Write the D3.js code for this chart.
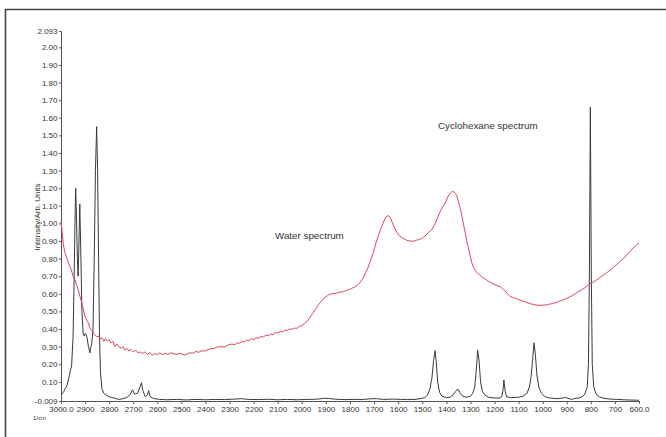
<!DOCTYPE html>
<html>
<head>
<meta charset="utf-8">
<script src="https://cdn.jsdelivr.net/npm/d3@7"></script>
<style>
  body { margin: 0; background: #fff; }
  svg text { font-family: "Liberation Sans", Arial, sans-serif; fill: #333; }
</style>
</head>
<body>
<svg id="chart" width="666" height="437"></svg>
<script>
  // x tick positions (Raman shift) and y tick positions
  var xTicks = [3000, 2900, 2800, 2700, 2600, 2500, 2400, 2300, 2200, 2100, 2000, 1900, 1800,
                1700, 1600, 1500, 1400, 1300, 1200, 1100, 1000, 900, 800, 700, 600];
  var yTicks = [-0.009, 0.10, 0.20, 0.30, 0.40, 0.50, 0.60, 0.70, 0.80, 0.90, 1.00, 1.10, 1.20,
                1.30, 1.40, 1.50, 1.60, 1.70, 1.80, 1.90, 2.00, 2.093];

  // water spectrum (red), [shift, intensity]
  var waterSpectrum = [
    [3000,1.01],[2995,0.95],[2990,0.88],[2985,0.84],[2980,0.82],[2975,0.80],[2970,0.78],[2963,0.755],
    [2956,0.73],[2950,0.70],[2942,0.68],[2935,0.65],[2928,0.62],[2921,0.584],[2914,0.55],[2907,0.508],
    [2900,0.47],[2893,0.45],[2886,0.434],[2878,0.40],[2870,0.39],[2862,0.37],[2852,0.357],[2845,0.36],
    [2838,0.345],[2830,0.35],[2822,0.33],[2815,0.345],[2808,0.33],[2800,0.338],[2792,0.32],[2785,0.33],
    [2776,0.30],[2768,0.315],[2760,0.30],[2750,0.29],[2743,0.30],[2735,0.28],[2726,0.29],[2718,0.275],
    [2710,0.285],[2700,0.27],[2690,0.28],[2680,0.265],[2672,0.27],[2662,0.26],[2652,0.27],[2642,0.255],
    [2632,0.265],[2622,0.25],[2612,0.26],[2600,0.255],[2590,0.265],[2578,0.255],[2566,0.262],[2555,0.255],
    [2545,0.265],[2535,0.262],[2522,0.255],[2510,0.262],[2498,0.258],[2486,0.252],[2477,0.258],[2465,0.265],
    [2452,0.262],[2440,0.272],[2428,0.268],[2416,0.276],[2405,0.275],[2394,0.28],[2380,0.288],[2365,0.29],
    [2350,0.298],[2335,0.30],[2320,0.298],[2305,0.31],[2290,0.315],[2278,0.31],[2270,0.322],[2258,0.318],
    [2250,0.33],[2240,0.326],[2230,0.337],[2220,0.333],[2210,0.345],[2200,0.34],[2190,0.35],[2180,0.347],
    [2170,0.358],[2160,0.354],[2150,0.365],[2140,0.362],[2130,0.372],[2120,0.368],[2110,0.38],[2100,0.377],
    [2090,0.387],[2080,0.384],[2070,0.395],[2060,0.392],[2050,0.40],[2040,0.398],[2030,0.405],[2020,0.404],
    [2010,0.415],[2000,0.42],[1990,0.43],[1982,0.438],[1975,0.45],[1968,0.462],[1960,0.48],[1952,0.492],
    [1945,0.51],[1938,0.522],[1930,0.54],[1922,0.552],[1915,0.565],[1908,0.572],[1900,0.585],[1892,0.59],
    [1885,0.598],[1878,0.597],[1870,0.602],[1862,0.6],[1855,0.605],[1848,0.606],[1840,0.61],[1832,0.61],
    [1825,0.615],[1818,0.617],[1810,0.62],[1802,0.625],[1795,0.63],[1788,0.634],[1780,0.64],[1772,0.646],
    [1765,0.655],[1757,0.665],[1750,0.68],[1742,0.697],[1735,0.72],[1727,0.742],[1720,0.77],[1712,0.8],
    [1704,0.83],[1697,0.865],[1690,0.9],[1682,0.93],[1675,0.96],[1669,0.98],[1663,1.0],[1657,1.02],
    [1652,1.035],[1647,1.04],[1642,1.044],[1637,1.04],[1632,1.03],[1626,1.01],[1620,0.99],[1613,0.97],
    [1607,0.953],[1601,0.94],[1595,0.93],[1588,0.922],[1581,0.916],[1573,0.91],[1565,0.905],[1555,0.9],
    [1544,0.90],[1535,0.898],[1525,0.905],[1517,0.906],[1510,0.91],[1504,0.913],[1498,0.918],[1489,0.928],
    [1480,0.94],[1472,0.95],[1465,0.96],[1460,0.966],[1456,0.974],[1448,0.995],[1440,1.02],[1434,1.04],
    [1428,1.06],[1421,1.08],[1415,1.096],[1407,1.112],[1400,1.13],[1394,1.15],[1388,1.165],[1383,1.172],
    [1378,1.18],[1373,1.182],[1368,1.178],[1362,1.17],[1357,1.16],[1351,1.13],[1345,1.10],[1340,1.07],
    [1335,1.04],[1330,1.005],[1325,0.97],[1320,0.935],[1315,0.9],[1310,0.87],[1305,0.84],[1300,0.81],
    [1295,0.78],[1290,0.76],[1285,0.745],[1278,0.73],[1270,0.715],[1262,0.71],[1255,0.7],[1248,0.692],
    [1240,0.685],[1232,0.678],[1225,0.67],[1218,0.667],[1210,0.66],[1202,0.655],[1195,0.65],[1186,0.645],
    [1176,0.64],[1168,0.63],[1160,0.62],[1152,0.61],[1145,0.60],[1140,0.592],[1135,0.585],[1125,0.58],
    [1115,0.575],[1104,0.57],[1094,0.563],[1085,0.56],[1075,0.555],[1065,0.55],[1055,0.545],[1045,0.542],
    [1035,0.538],[1025,0.536],[1015,0.535],[1005,0.534],[995,0.536],[985,0.537],[975,0.54],[965,0.543],
    [955,0.547],[945,0.55],[935,0.555],[925,0.56],[915,0.566],[905,0.571],[895,0.578],[885,0.584],
    [875,0.592],[865,0.6],[855,0.61],[845,0.616],[835,0.625],[825,0.634],[815,0.645],[808,0.652],
    [800,0.66],[790,0.666],[780,0.675],[770,0.684],[760,0.695],[750,0.704],[740,0.715],[730,0.724],
    [720,0.735],[712,0.744],[704,0.754],[695,0.764],[685,0.775],[675,0.787],[665,0.8],[655,0.815],
    [645,0.83],[635,0.845],[625,0.86],[612,0.875],[600,0.89]
  ];

  // cyclohexane spectrum (black), [shift, intensity]
  var hexaneSpectrum = [
    [3000,0.025],[2990,0.04],[2983,0.06],[2976,0.075],[2968,0.12],[2960,0.17],[2956,0.19],[2950,0.35],
    [2946,0.65],[2942,1.0],[2939,1.2],[2936,1.05],[2932,0.8],[2929,0.70],[2926,0.85],[2922,1.11],
    [2918,0.85],[2913,0.5],[2908,0.37],[2904,0.36],[2900,0.375],[2896,0.37],[2892,0.35],[2886,0.30],
    [2880,0.264],[2876,0.30],[2872,0.32],[2867,0.40],[2862,0.8],[2857,1.3],[2852,1.55],[2848,1.3],
    [2844,0.8],[2840,0.35],[2836,0.15],[2830,0.06],[2822,0.035],[2813,0.025],[2800,0.015],[2780,0.008],
    [2760,0.0],[2740,0.005],[2725,0.012],[2712,0.03],[2703,0.055],[2695,0.03],[2682,0.035],[2672,0.07],
    [2666,0.095],[2660,0.05],[2650,0.015],[2642,0.025],[2636,0.05],[2630,0.015],[2615,0.005],[2590,0.0],
    [2560,-0.002],[2520,0.0],[2480,-0.003],[2440,0.0],[2400,-0.002],[2360,0.0],[2320,-0.001],[2280,0.002],
    [2250,0.004],[2220,0.0],[2180,-0.001],[2140,0.001],[2100,-0.002],[2060,0.0],[2020,-0.002],[1980,0.0],
    [1940,0.001],[1910,0.006],[1890,0.006],[1860,0.001],[1820,-0.001],[1780,0.0],[1740,0.0],[1715,0.004],
    [1690,0.004],[1660,0.0],[1620,0.002],[1590,0.0],[1560,0.0],[1530,0.0],[1505,0.005],[1490,0.01],
    [1478,0.025],[1468,0.06],[1460,0.12],[1453,0.22],[1447,0.277],[1442,0.22],[1436,0.10],[1428,0.04],
    [1418,0.018],[1400,0.01],[1385,0.012],[1372,0.025],[1362,0.045],[1352,0.059],[1344,0.04],[1334,0.02],
    [1318,0.012],[1300,0.018],[1290,0.035],[1282,0.07],[1276,0.16],[1270,0.28],[1264,0.22],[1258,0.1],
    [1250,0.045],[1240,0.025],[1225,0.012],[1200,0.008],[1180,0.007],[1170,0.015],[1165,0.05],[1161,0.11],
    [1156,0.05],[1150,0.015],[1130,0.01],[1100,0.012],[1080,0.02],[1065,0.035],[1055,0.07],[1048,0.13],
    [1042,0.22],[1036,0.322],[1030,0.25],[1024,0.14],[1016,0.07],[1005,0.035],[990,0.015],[970,0.008],
    [940,0.004],[915,0.008],[905,0.012],[895,0.006],[880,0.0],[865,0.006],[850,0.008],[835,0.015],
    [825,0.03],[815,0.07],[810,0.2],[806,0.7],[802,1.66],[798,0.7],[794,0.2],[788,0.07],[778,0.03],
    [765,0.015],[745,0.006],[720,0.002],[690,0.0],[650,-0.003],[620,-0.004],[600,-0.005]
  ];

  var svg = d3.select("#chart");

  // outer frame (top and left edges visible)
  svg.append("path")
    .attr("d", "M5.5,437V9.5H666")
    .attr("fill", "none")
    .attr("stroke", "#444")
    .attr("stroke-width", 1.6);

  var x = d3.scaleLinear().domain([3000, 600]).range([61, 639]);
  var y = d3.scaleLinear().domain([-0.009, 2.093]).range([401, 31]);

  var fmtY = function(d){
    if (d == -0.009) return "-0.009";
    if (d == 2.093) return "2.093";
    return d.toFixed(2);
  };
  var fmtX = function(d){
    if (d == 3000 || d == 600) return d.toFixed(1);
    return String(d);
  };

  var yAxis = svg.append("g")
    .attr("transform", "translate(61,0)")
    .call(d3.axisLeft(y).tickValues(yTicks).tickFormat(fmtY).tickSize(2).tickPadding(1.5));
  var xAxis = svg.append("g")
    .attr("transform", "translate(0,401)")
    .call(d3.axisBottom(x).tickValues(xTicks).tickFormat(fmtX).tickSize(3).tickPadding(2));

  [yAxis, xAxis].forEach(function(g){
    g.select(".domain").attr("stroke", "#555").attr("stroke-width", 1);
    g.selectAll(".tick line").attr("stroke", "#555");
    g.selectAll(".tick text").attr("font-size", 8).attr("fill", "#333")
      .attr("font-family", "'Liberation Sans', Arial, sans-serif");
  });

  var line = d3.line()
    .x(function(d){ return x(d[0]); })
    .y(function(d){ return y(d[1]); });

  svg.append("path")
    .datum(hexaneSpectrum)
    .attr("d", line)
    .attr("fill", "none")
    .attr("stroke", "#3a3a3a")
    .attr("stroke-width", 1);

  svg.append("path")
    .datum(waterSpectrum)
    .attr("d", line)
    .attr("fill", "none")
    .attr("stroke", "#de4658")
    .attr("stroke-width", 1);

  // axis titles
  svg.append("text")
    .attr("transform", "translate(40,217) rotate(-90)")
    .attr("text-anchor", "middle")
    .attr("font-size", 8)
    .text("Intensity/Arb. Units");

  svg.append("text")
    .attr("x", 33).attr("y", 420)
    .attr("font-size", 6)
    .text("1/cm");

  // annotations
  svg.append("text")
    .attr("x", 275).attr("y", 239)
    .attr("font-size", 9.8)
    .text("Water spectrum");

  svg.append("text")
    .attr("x", 438).attr("y", 129)
    .attr("font-size", 9.8)
    .text("Cyclohexane spectrum");
</script>
</body>
</html>
